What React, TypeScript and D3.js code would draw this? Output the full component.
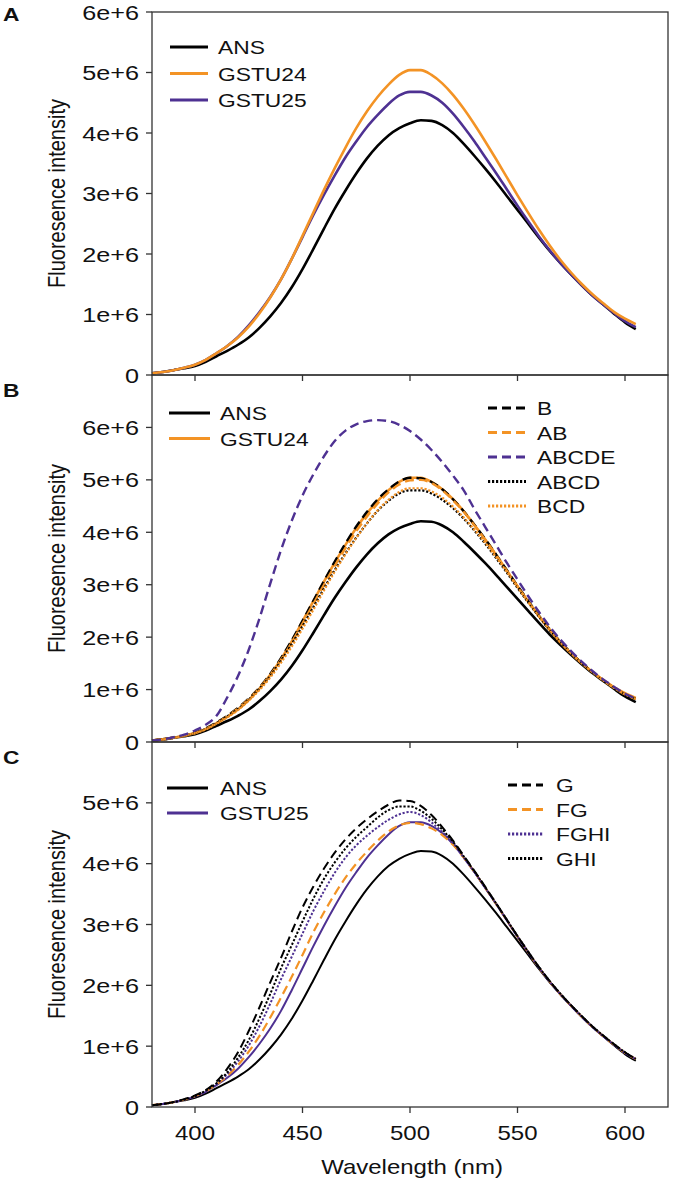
import React from "react";
import * as d3 from "d3";

// Wavelength (nm)
const wavelengths = [380,385,390,395,400,405,410,415,420,425,430,435,440,445,450,455,460,465,470,475,480,485,490,495,500,505,510,515,520,525,530,535,540,545,550,555,560,565,570,575,580,585,590,595,600,605];

// Fluorescence intensity values, in units of 1e6
const ANS = [0.03,0.05,0.08,0.11,0.15,0.22,0.31,0.4,0.5,0.62,0.78,0.97,1.19,1.45,1.75,2.08,2.42,2.75,3.05,3.33,3.58,3.79,3.96,4.08,4.16,4.21,4.2,4.13,4.0,3.82,3.62,3.41,3.19,2.96,2.73,2.5,2.27,2.05,1.85,1.66,1.48,1.31,1.16,1.01,0.87,0.76];
const GSTU24 = [0.03,0.05,0.08,0.12,0.17,0.25,0.36,0.48,0.62,0.8,1.02,1.28,1.58,1.92,2.3,2.68,3.06,3.42,3.76,4.08,4.36,4.6,4.8,4.96,5.04,5.04,4.96,4.82,4.63,4.4,4.14,3.86,3.57,3.27,2.97,2.68,2.4,2.14,1.9,1.69,1.5,1.33,1.18,1.04,0.93,0.84];
const GSTU25 = [0.03,0.05,0.08,0.12,0.17,0.25,0.36,0.48,0.63,0.82,1.04,1.29,1.58,1.92,2.28,2.64,2.98,3.3,3.6,3.86,4.1,4.3,4.48,4.62,4.68,4.68,4.62,4.5,4.32,4.1,3.86,3.6,3.34,3.07,2.8,2.54,2.29,2.06,1.85,1.66,1.48,1.31,1.16,1.02,0.89,0.79];

const B = [0.03,0.05,0.08,0.12,0.18,0.26,0.37,0.5,0.65,0.83,1.04,1.3,1.6,1.94,2.31,2.69,3.07,3.44,3.79,4.11,4.39,4.63,4.82,4.97,5.04,5.03,4.96,4.82,4.63,4.4,4.14,3.87,3.58,3.28,2.98,2.69,2.41,2.15,1.91,1.7,1.5,1.33,1.17,1.03,0.91,0.82];
const AB = [0.03,0.05,0.08,0.12,0.17,0.25,0.36,0.49,0.64,0.82,1.03,1.28,1.57,1.9,2.26,2.63,3.0,3.36,3.7,4.02,4.3,4.55,4.76,4.91,4.99,5.0,4.94,4.8,4.61,4.39,4.13,3.86,3.57,3.27,2.97,2.68,2.4,2.14,1.9,1.69,1.5,1.33,1.17,1.03,0.91,0.82];
const ABCDE = [0.03,0.05,0.09,0.14,0.22,0.33,0.5,0.85,1.26,1.76,2.36,3.02,3.66,4.22,4.7,5.1,5.45,5.74,5.94,6.06,6.12,6.14,6.12,6.05,5.93,5.77,5.57,5.34,5.08,4.8,4.44,4.1,3.76,3.42,3.1,2.78,2.48,2.2,1.95,1.73,1.53,1.35,1.19,1.05,0.92,0.83];
const ABCD = [0.03,0.05,0.08,0.12,0.17,0.25,0.36,0.49,0.63,0.81,1.02,1.26,1.55,1.87,2.21,2.57,2.93,3.28,3.6,3.9,4.17,4.41,4.6,4.74,4.8,4.8,4.74,4.62,4.46,4.26,4.03,3.78,3.51,3.23,2.94,2.66,2.39,2.13,1.9,1.69,1.5,1.33,1.17,1.03,0.91,0.82];
const BCD = [0.03,0.05,0.08,0.12,0.17,0.24,0.35,0.47,0.61,0.79,0.99,1.23,1.51,1.82,2.16,2.52,2.89,3.25,3.58,3.89,4.17,4.42,4.62,4.77,4.84,4.84,4.78,4.66,4.49,4.28,4.05,3.8,3.53,3.25,2.96,2.67,2.4,2.14,1.9,1.69,1.5,1.33,1.17,1.03,0.91,0.82];

const G = [0.03,0.05,0.08,0.13,0.19,0.28,0.42,0.63,0.9,1.25,1.64,2.05,2.45,2.88,3.28,3.62,3.92,4.18,4.4,4.58,4.73,4.86,4.97,5.04,5.03,4.95,4.8,4.6,4.38,4.13,3.88,3.62,3.35,3.08,2.81,2.55,2.3,2.07,1.86,1.67,1.49,1.32,1.17,1.03,0.9,0.79];
const FG = [0.03,0.05,0.08,0.12,0.18,0.26,0.37,0.51,0.69,0.91,1.17,1.47,1.8,2.14,2.5,2.87,3.2,3.5,3.77,4.0,4.2,4.38,4.53,4.63,4.67,4.65,4.58,4.47,4.31,4.1,3.86,3.6,3.34,3.07,2.8,2.54,2.29,2.06,1.85,1.66,1.48,1.31,1.16,1.02,0.89,0.79];
const FGHI = [0.03,0.05,0.08,0.12,0.18,0.26,0.38,0.54,0.75,1.01,1.33,1.7,2.1,2.47,2.85,3.22,3.55,3.85,4.1,4.3,4.46,4.6,4.72,4.81,4.85,4.8,4.68,4.52,4.34,4.1,3.86,3.6,3.34,3.07,2.8,2.54,2.29,2.06,1.85,1.66,1.48,1.31,1.16,1.02,0.89,0.79];
const GHI = [0.03,0.05,0.08,0.12,0.18,0.27,0.39,0.57,0.81,1.1,1.46,1.86,2.28,2.66,3.05,3.42,3.75,4.02,4.25,4.44,4.6,4.76,4.88,4.94,4.94,4.87,4.74,4.56,4.36,4.12,3.87,3.61,3.35,3.08,2.81,2.55,2.3,2.07,1.86,1.67,1.49,1.32,1.17,1.03,0.9,0.79];

const xTicks = [400, 450, 500, 550, 600];
const yTicksA = [0, 1, 2, 3, 4, 5, 6];
const yTicksB = [0, 1, 2, 3, 4, 5, 6];
const yTicksC = [0, 1, 2, 3, 4, 5];

const ORANGE = "#F39325";
const PURPLE = "#4E3192";
const DASH = "9,5";
const DOT = "2.2,1.8";
const FONT = "'Liberation Sans', Arial, Helvetica, sans-serif";

type S = { name: string; values: number[]; color: string; dash?: string; width: number };

const panelsDef = [
  {
    letter: "A", top: 12, bottom: 375, max: 6, yTicks: yTicksA,
    series: [
      { name: "ANS", values: ANS, color: "#000", width: 2.6 },
      { name: "GSTU25", values: GSTU25, color: PURPLE, width: 2.6 },
      { name: "GSTU24", values: GSTU24, color: ORANGE, width: 2.6 },
    ] as S[],
    legendL: ["ANS", "GSTU24", "GSTU25"], legendR: [] as string[],
    legL: { x1: 170, x2: 208, tx: 218, y0: 47, dy: 26.5 },
    legR: { x1: 0, x2: 0, tx: 0, y0: 0, dy: 0 },
  },
  {
    letter: "B", top: 375, bottom: 742, max: 7, yTicks: yTicksB,
    series: [
      { name: "ANS", values: ANS, color: "#000", width: 2.6 },
      { name: "GSTU24", values: GSTU24, color: ORANGE, width: 2.6 },
      { name: "B", values: B, color: "#000", dash: DASH, width: 2.4 },
      { name: "AB", values: AB, color: ORANGE, dash: DASH, width: 2.4 },
      { name: "ABCD", values: ABCD, color: "#000", dash: DOT, width: 2.2 },
      { name: "BCD", values: BCD, color: ORANGE, dash: DOT, width: 2.2 },
      { name: "ABCDE", values: ABCDE, color: PURPLE, dash: DASH, width: 2.4 },
    ] as S[],
    legendL: ["ANS", "GSTU24"], legendR: ["B", "AB", "ABCDE", "ABCD", "BCD"],
    legL: { x1: 169, x2: 210, tx: 220, y0: 413, dy: 25.5 },
    legR: { x1: 488, x2: 526, tx: 537, y0: 408, dy: 24.5 },
  },
  {
    letter: "C", top: 742, bottom: 1107, max: 6, yTicks: yTicksC,
    series: [
      { name: "ANS", values: ANS, color: "#000", width: 2 },
      { name: "GSTU25", values: GSTU25, color: PURPLE, width: 2 },
      { name: "FG", values: FG, color: ORANGE, dash: DASH, width: 2.2 },
      { name: "FGHI", values: FGHI, color: PURPLE, dash: DOT, width: 2 },
      { name: "GHI", values: GHI, color: "#000", dash: DOT, width: 2 },
      { name: "G", values: G, color: "#000", dash: DASH, width: 2 },
    ] as S[],
    legendL: ["ANS", "GSTU25"], legendR: ["G", "FG", "FGHI", "GHI"],
    legL: { x1: 167, x2: 208, tx: 220, y0: 788, dy: 25 },
    legR: { x1: 508, x2: 543, tx: 556, y0: 785, dy: 24.5 },
  },
];

const x = d3.scaleLinear().domain([380, 620]).range([152, 668]);

function T(props: { x: number; y: number; anchor?: string; size?: number; weight?: string; children: React.ReactNode; rotate?: boolean }) {
  const { x: tx, y: ty, anchor = "start", size = 20, weight = "normal", rotate } = props;
  return (
    <text
      transform={`translate(${tx},${ty}) scale(1.2,1)${rotate ? " rotate(-90)" : ""}`}
      textAnchor={anchor}
      fontSize={size}
      fontWeight={weight}
      fontFamily={FONT}
      fill="#111"
    >
      {props.children}
    </text>
  );
}

export default function App() {
  const W = 675, H = 1181;
  return (
    <div style={{ position: "absolute", left: 0, top: 0 }}>
      <svg width={W} height={H} viewBox={`0 0 ${W} ${H}`} style={{ display: "block", background: "#fff" }}>
        {panelsDef.map((p) => {
          const y = d3.scaleLinear().domain([0, p.max]).range([p.bottom, p.top]);
          const line = d3
            .line<number>()
            .x((_, i) => x(wavelengths[i]))
            .y((v) => y(v))
            .curve(d3.curveMonotoneX);
          const byName: Record<string, S> = {};
          p.series.forEach((s) => (byName[s.name] = s));
          const cy = (p.top + p.bottom) / 2;
          return (
            <g key={p.letter}>
              {p.series.map((s) => (
                <path
                  key={s.name}
                  d={line(s.values) || ""}
                  fill="none"
                  stroke={s.color}
                  strokeWidth={s.width}
                  strokeDasharray={s.dash}
                  strokeLinejoin="round"
                />
              ))}
              <rect x={x(380)} y={p.top} width={x(620) - x(380)} height={p.bottom - p.top} fill="none" stroke="#333" strokeWidth={1.3} />
              {p.yTicks.map((t) => (
                <g key={t}>
                  <line x1={x(380) - 6} x2={x(380)} y1={y(t)} y2={y(t)} stroke="#333" strokeWidth={1.3} />
                  <T x={x(380) - 13} y={y(t) + 7.5} anchor="end" size={21}>
                    {t === 0 ? "0" : `${t}e+6`}
                  </T>
                </g>
              ))}
              {xTicks.map((t) => (
                <line key={t} x1={x(t)} x2={x(t)} y1={p.bottom} y2={p.bottom + 6} stroke="#333" strokeWidth={1.3} />
              ))}
              <T x={65} y={cy} anchor="middle" size={20} rotate>
                Fluoresence intensity
              </T>
              <T x={3} y={p.top + (p.letter === "A" ? 9 : 22)} size={19} weight="bold">
                {p.letter}
              </T>
              {p.legendL.map((n, i) => {
                const s = byName[n];
                const ly = p.legL.y0 + i * p.legL.dy;
                return (
                  <g key={"l" + n}>
                    <line x1={p.legL.x1} x2={p.legL.x2} y1={ly} y2={ly} stroke={s.color} strokeWidth={3} strokeDasharray={s.dash} />
                    <T x={p.legL.tx} y={ly + 7} size={19}>{n}</T>
                  </g>
                );
              })}
              {p.legendR.map((n, i) => {
                const s = byName[n];
                const ly = p.legR.y0 + i * p.legR.dy;
                return (
                  <g key={"r" + n}>
                    <line x1={p.legR.x1} x2={p.legR.x2} y1={ly} y2={ly} stroke={s.color} strokeWidth={3} strokeDasharray={s.dash} />
                    <T x={p.legR.tx} y={ly + 7} size={19}>{n}</T>
                  </g>
                );
              })}
            </g>
          );
        })}
        {xTicks.map((t) => (
          <T key={t} x={x(t)} y={1140} anchor="middle" size={20}>
            {t}
          </T>
        ))}
        <T x={412} y={1174} anchor="middle" size={20}>
          Wavelength (nm)
        </T>
      </svg>
    </div>
  );
}
